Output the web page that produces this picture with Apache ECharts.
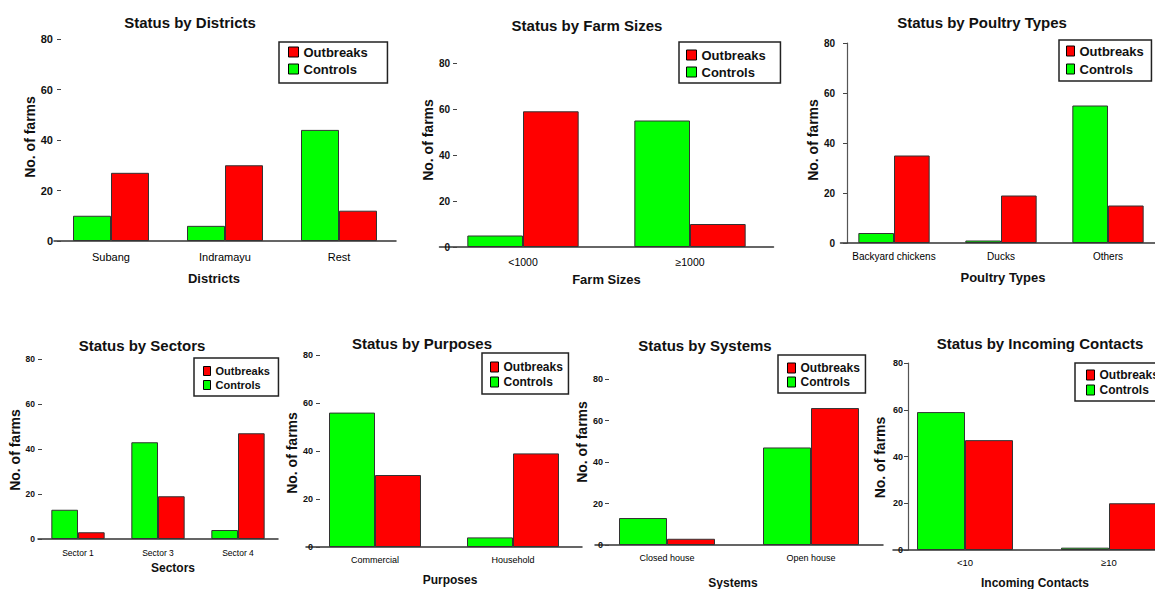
<!DOCTYPE html>
<html>
<head>
<meta charset="utf-8">
<title>Outbreaks and controls by farm characteristics</title>
<script src="https://cdn.jsdelivr.net/npm/echarts@6/dist/echarts.min.js"></script>
<style>
  html, body { margin: 0; padding: 0; background: #fff; }
  #chart { width: 1155px; height: 589px; }
</style>
</head>
<body>
<div id="chart"></div>
<script>
// values
const districts = ['Subang', 'Indramayu', 'Rest'];
const districtOutbreaks = [27, 30, 12];
const districtControls = [10, 6, 44];

const farmSizes = ['<1000', '≥1000'];
const farmSizeOutbreaks = [59, 10];
const farmSizeControls = [5, 55];

const poultryTypes = ['Backyard chickens', 'Ducks', 'Others'];
const poultryOutbreaks = [35, 19, 15];
const poultryControls = [4, 1, 55];

const sectors = ['Sector 1', 'Sector 3', 'Sector 4'];
const sectorOutbreaks = [3, 19, 47];
const sectorControls = [13, 43, 4];

const purposes = ['Commercial', 'Household'];
const purposeOutbreaks = [30, 39];
const purposeControls = [56, 4];

const systems = ['Closed house', 'Open house'];
const systemOutbreaks = [3, 66];
const systemControls = [13, 47];

const contacts = ['<10', '≥10'];
const contactOutbreaks = [47, 20];
const contactControls = [59, 1];

const yMin = 0;
const yMax = 80;
const yStep = 20;

const RED = '#FF0000';
const GREEN = '#00FF00';
const SANS = '"Liberation Sans", Arial, sans-serif';

// layout of each small chart (pixels)
const panels = [
  { title: 'Status by Districts', xName: 'Districts', cats: districts, out: districtOutbreaks, ctl: districtControls,
    left: 54, width: 342, top: 39, zero: 241, axisX: 61, yLine: false, tx: 190, ty: 22,
    lab: 11, ylab: 11, xMargin: 10, yMargin: 8, xGap: 31, xShift: -11, xNameSize: 13, yGap: 18, yUp: 3,
    lg: { left: 279, top: 42, font: 13, iw: 10, ih: 10, spacing: 17, c1: 52, h: 41, pl: 9, w: 108 } },
  { title: 'Status by Farm Sizes', xName: 'Farm Sizes', cats: farmSizes, out: farmSizeOutbreaks, ctl: farmSizeControls,
    left: 439.5, width: 334, top: 63, zero: 247, axisX: 457, yLine: false, tx: 587, ty: 25,
    lab: 10.5, ylab: 10, xMargin: 9, yMargin: 7, xGap: 25.5, xShift: 0, xNameSize: 13, yGap: 21, yUp: 15,
    lg: { left: 679, top: 42, font: 13, iw: 10, ih: 10, spacing: 17, c1: 55, h: 41, pl: 7, w: 101 } },
  { title: 'Status by Poultry Types', xName: 'Poultry Types', cats: poultryTypes, out: poultryOutbreaks, ctl: poultryControls,
    left: 840.5, width: 321, top: 43, zero: 243, axisX: 847, yLine: true, tx: 982, ty: 22,
    lab: 10, ylab: 10, xMargin: 8, yMargin: 12, xGap: 27.5, xShift: 2, xNameSize: 13, yGap: 19, yUp: 3,
    lg: { left: 1059, top: 40, font: 13, iw: 8, ih: 10, spacing: 18, c1: 51, h: 41, pl: 7, w: 92 } },
  { title: 'Status by Sectors', xName: 'Sectors', cats: sectors, out: sectorOutbreaks, ctl: sectorControls,
    left: 38, width: 240, top: 359, zero: 539, axisX: 42, yLine: false, tx: 142, ty: 345,
    lab: 8.5, ylab: 8.5, xMargin: 9, yMargin: 7, xGap: 22.5, xShift: 15, xNameSize: 12, yGap: 15, yUp: -1,
    lg: { left: 194, top: 358, font: 11, iw: 7, ih: 9, spacing: 14, c1: 371, h: 38, pl: 9, w: 84 } },
  { title: 'Status by Purposes', xName: 'Purposes', cats: purposes, out: purposeOutbreaks, ctl: purposeControls,
    left: 306, width: 276, top: 355, zero: 547, axisX: 320, yLine: false, tx: 422, ty: 343,
    lab: 9, ylab: 9, xMargin: 8, yMargin: 7, xGap: 26.5, xShift: 6, xNameSize: 12, yGap: 17, yUp: -2,
    lg: { left: 482, top: 353, font: 12, iw: 8, ih: 10, spacing: 15, c1: 367, h: 41, pl: 8, w: 86 } },
  { title: 'Status by Systems', xName: 'Systems', cats: systems, out: systemOutbreaks, ctl: systemControls,
    left: 595, width: 288, top: 379, zero: 545, axisX: 609, yLine: false, tx: 705, ty: 345,
    lab: 9, ylab: 9, xMargin: 8, yMargin: 6, xGap: 31.5, xShift: -6, xNameSize: 12, yGap: 18, yUp: 20,
    lg: { left: 778, top: 355, font: 12, iw: 8, ih: 10, spacing: 14, c1: 368, h: 38, pl: 9, w: 87 } },
  { title: 'Status by Incoming Contacts', xName: 'Incoming Contacts', cats: contacts, out: contactOutbreaks, ctl: contactControls,
    left: 893, width: 288, top: 363, zero: 550, axisX: 908, yLine: true, tx: 1040, ty: 343,
    lab: 9.5, ylab: 9, xMargin: 7, yMargin: 5, xGap: 27, xShift: -2, xNameSize: 12, yGap: 21, yUp: -1,
    lg: { left: 1075, top: 363, font: 12, iw: 8, ih: 10, spacing: 15, c1: 375, h: 38, pl: 11, w: 92 } }
];

const option = {
  animation: false,
  backgroundColor: '#fff',
  title: [], legend: [], grid: [], xAxis: [], yAxis: [], series: []
};

panels.forEach((p, i) => {
  option.title.push({
    text: p.title, left: p.tx, top: p.ty - 9, textAlign: 'center', padding: 0,
    textStyle: { fontFamily: SANS, fontSize: 15, fontWeight: 'bold', color: '#111', lineHeight: 18 }
  });

  const lh = p.lg.font + 2;
  const gap = p.lg.spacing - lh;
  const pt = p.lg.c1 - p.lg.top - lh / 2;
  const pb = p.lg.h - pt - (2 * lh + gap);
  // width of "Outbreaks" in bold Arial is about 4.95em
  const pr = Math.max(3, p.lg.w - p.lg.pl - p.lg.iw - 5 - 4.95 * p.lg.font);
  option.legend.push({
    data: ['Outbreaks', 'Controls'],
    orient: 'vertical', left: p.lg.left, top: p.lg.top,
    padding: [pt, pr, pb, p.lg.pl],
    itemWidth: p.lg.iw, itemHeight: p.lg.ih, itemGap: gap,
    icon: 'rect', selectedMode: false,
    backgroundColor: '#fff', borderColor: '#222', borderWidth: 1.5, borderRadius: 0,
    itemStyle: { borderColor: '#000', borderWidth: 1 },
    textStyle: { fontFamily: SANS, fontSize: p.lg.font, fontWeight: 'bold', color: '#111', lineHeight: lh }
  });

  option.grid.push({
    left: p.left, top: p.top, width: p.width, height: p.zero - p.top,
    containLabel: false, outerBoundsMode: 'none'
  });

  option.xAxis.push({
    gridIndex: i, type: 'category', data: p.cats,
    axisLine: { show: true, lineStyle: { color: '#333', width: 1.5 } },
    axisTick: { show: false },
    axisLabel: { interval: 0, fontFamily: SANS, fontSize: p.lab, color: '#000', margin: p.xMargin },
    name: p.xName, nameLocation: 'middle', nameGap: p.xGap,
    nameTextStyle: {
      fontFamily: SANS, fontSize: p.xNameSize, fontWeight: 'bold', color: '#111',
      padding: p.xShift >= 0 ? [0, 0, 0, 2 * p.xShift] : [0, -2 * p.xShift, 0, 0]
    }
  });

  option.yAxis.push({
    gridIndex: i, type: 'value', min: yMin, max: yMax, interval: yStep,
    offset: -(p.axisX - p.left),
    axisLine: { show: p.yLine, lineStyle: { color: '#555', width: 1.2 } },
    axisTick: { show: true, length: 4, lineStyle: { color: '#444' } },
    splitLine: { show: false },
    axisLabel: { fontFamily: SANS, fontSize: p.ylab, fontWeight: 'bold', color: '#111', margin: p.yMargin },
    name: 'No. of farms', nameLocation: 'middle', nameGap: p.yGap,
    nameTextStyle: {
      fontFamily: SANS, fontSize: 14, fontWeight: 'bold', color: '#111',
      padding: p.yUp >= 0 ? [0, 0, 0, 2 * p.yUp] : [0, -2 * p.yUp, 0, 0]
    }
  });

  const common = {
    type: 'bar', xAxisIndex: i, yAxisIndex: i,
    barGap: '0%', barCategoryGap: '33.34%'
  };
  option.series.push(Object.assign({}, common, {
    name: 'Controls', data: p.ctl,
    itemStyle: { color: GREEN, borderColor: '#333', borderWidth: 1 }
  }));
  option.series.push(Object.assign({}, common, {
    name: 'Outbreaks', data: p.out,
    itemStyle: { color: RED, borderColor: '#333', borderWidth: 1 }
  }));
});

const chart = echarts.init(document.getElementById('chart'), null, { renderer: 'svg' });
chart.setOption(option);
</script>
</body>
</html>
